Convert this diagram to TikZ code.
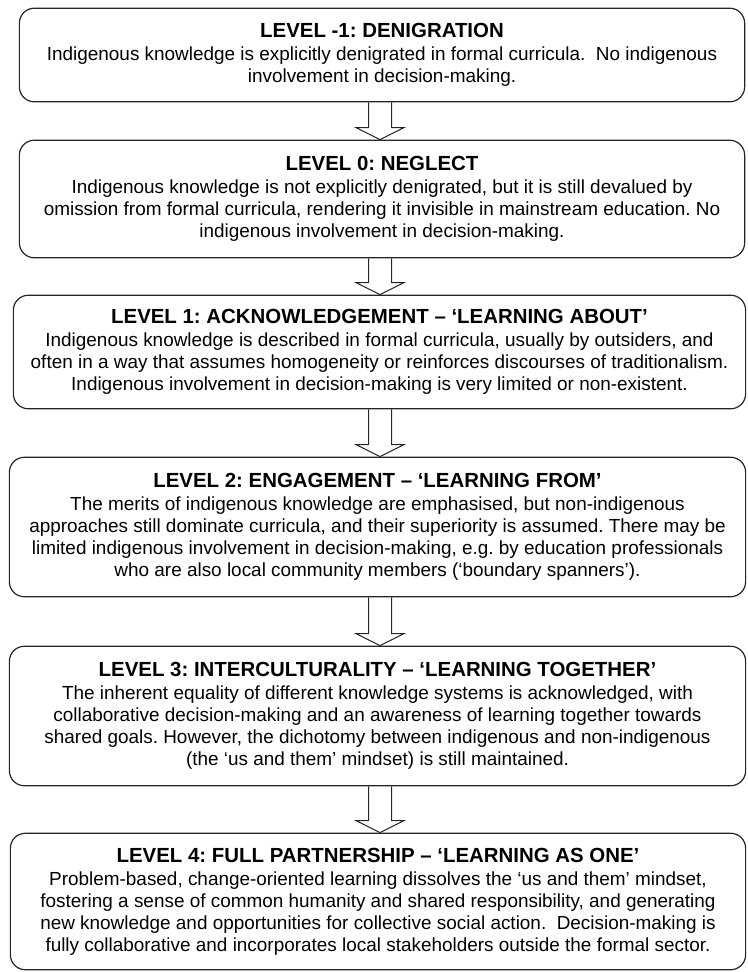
\documentclass[tikz,border=0pt]{standalone}
\usepackage{fontspec}
\setmainfont{Liberation Sans}
\usetikzlibrary{calc,positioning}
\frenchspacing
\tikzset{
  level box/.style={
    draw=black!85,
    line width=1.2bp,
    rounded corners=15bp,
    align=center,
    inner sep=0pt,
    font=\fontsize{19}{22}\selectfont
  },
  block arrow/.style={draw=black!85, line width=1bp, line join=miter}
}
\newcommand{\leveltitle}[1]{{\fontsize{20.5}{23}\selectfont\bfseries #1}\\[1pt]}

\begin{document}
\begin{tikzpicture}[x=1bp,y=-1bp]
  \useasboundingbox (0,0) rectangle (748,972);

  \node[level box, minimum width=728, minimum height=94] (lvlm1) at (382,55) {%
    \leveltitle{LEVEL -1: DENIGRATION}
    Indigenous knowledge is explicitly denigrated in formal curricula.~ No indigenous\\
    involvement in decision-making.};
  \node[level box, minimum width=728, minimum height=118] (lvl0) at (382,199) {%
    \leveltitle{LEVEL 0: NEGLECT}
    Indigenous knowledge is not explicitly denigrated, but it is still devalued by\\
    omission from formal curricula, rendering it invisible in mainstream education. No\\
    indigenous involvement in decision-making.};
  \node[level box, minimum width=735, minimum height=114] (lvl1) at (379.5,352) {%
    \leveltitle{LEVEL 1: ACKNOWLEDGEMENT – ‘LEARNING ABOUT’}
    Indigenous knowledge is described in formal curricula, usually by outsiders, and\\
    often in a way that assumes homogeneity or reinforces discourses of traditionalism.\\
    Indigenous involvement in decision-making is very limited or non-existent.};
  \node[level box, minimum width=739, minimum height=140] (lvl2) at (377.5,527) {%
    \leveltitle{LEVEL 2: ENGAGEMENT – ‘LEARNING FROM’}
    The merits of indigenous knowledge are emphasised, but non-indigenous\\
    approaches still dominate curricula, and their superiority is assumed. There may be\\
    limited indigenous involvement in decision-making, e.g. by education professionals\\
    who are also local community members (‘boundary spanners’).};
  \node[level box, minimum width=739, minimum height=140] (lvl3) at (377.5,716) {%
    \leveltitle{LEVEL 3: INTERCULTURALITY – ‘LEARNING TOGETHER’}
    The inherent equality of different knowledge systems is acknowledged, with\\
    collaborative decision-making and an awareness of learning together towards\\
    shared goals. However, the dichotomy between indigenous and non-indigenous\\
    (the ‘us and them’ mindset) is still maintained.};
  \node[level box, minimum width=738, minimum height=137] (lvl4) at (378,901.5) {%
    \leveltitle{LEVEL 4: FULL PARTNERSHIP – ‘LEARNING AS ONE’}
    Problem-based, change-oriented learning dissolves the ‘us and them’ mindset,\\
    fostering a sense of common humanity and shared responsibility, and generating\\
    new knowledge and opportunities for collective social action.~ Decision-making is\\
    fully collaborative and incorporates local stakeholders outside the formal sector.};

  % hollow arrows between the levels
  \coordinate (spine) at (380,0);
  \foreach \a/\b in {lvlm1/lvl0,lvl0/lvl1,lvl1/lvl2,lvl2/lvl3,lvl3/lvl4}
  {
    \draw[block arrow] ($(spine |- \a.south)+(-11.5,0)$) -- ($(spine |- \b.north)+(-11.5,-12)$)
      -- ++(-12.5,0) -- (spine |- \b.north) -- ($(spine |- \b.north)+(24,-12)$)
      -- ++(-12.5,0) -- ($(spine |- \a.south)+(11.5,0)$);
  }
\end{tikzpicture}
\end{document}
